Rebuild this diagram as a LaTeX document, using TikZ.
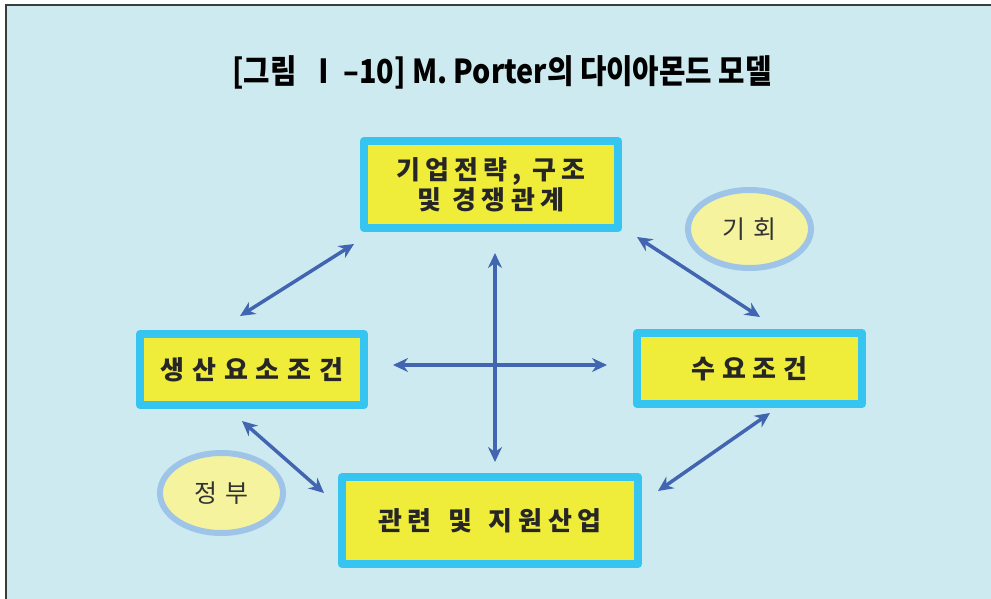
\documentclass[tikz,border=0pt]{standalone}
\usepackage{fontspec}
\usepackage{graphicx}
\setmainfont{Noto Sans CJK KR}
\newfontfamily\boxfont{Noto Sans CJK KR}
\usetikzlibrary{arrows.meta,shapes.geometric}
\definecolor{bgcyan}{RGB}{206,234,241}
\definecolor{boxblue}{RGB}{53,197,240}
\definecolor{boxyellow}{RGB}{239,236,58}
\definecolor{ringblue}{RGB}{158,196,232}
\definecolor{paleyellow}{RGB}{245,243,158}
\definecolor{arrowblue}{RGB}{66,101,178}
\definecolor{framegray}{RGB}{60,60,60}
\tikzset{
  stagebox/.style={draw=boxblue, fill=boxyellow, line width=8pt, line join=round,
    inner sep=0pt, align=center, text=black!85},
  chance/.style={ellipse, draw=ringblue, fill=paleyellow, line width=6pt, inner sep=0pt,
    text=black!80, font={\fontsize{25}{28}\selectfont\addfontfeature{LetterSpace=10}}},
  link/.style={draw=arrowblue, line width=3.5pt,
    {Stealth[length=15pt,width=14pt]}-{Stealth[length=15pt,width=14pt]}}
}
\begin{document}
\begin{tikzpicture}[x=1pt,y=-1pt]
  \useasboundingbox (0,0) rectangle (991,599);
  \fill[white] (0,0) rectangle (991,599);
  \fill[bgcyan] (6,5) rectangle (991,599);
  \draw[framegray, line width=1.5pt] (6,599) -- (6,5) -- (991,5);
  % title
  \node (title) at (502,72) {\scalebox{0.87}[1]{\fontsize{33}{36}\selectfont\bfseries
    [그림\ \ Ⅰ\,–10]\ M. Porter의 다이아몬드 모델}};
  % four determinants
  \node[stagebox, minimum width=254, minimum height=87,
    font={\boxfont\fontsize{26}{30.5}\selectfont\bfseries\addfontfeature{LetterSpace=20}}]
    (strategy) at (491,184.5) {\rule{0pt}{22pt}기업전략, 구조\\및 경쟁관계};
  \node[stagebox, minimum width=224, minimum height=71,
    font={\boxfont\fontsize{26}{28}\selectfont\bfseries\addfontfeature{LetterSpace=30}}]
    (factor) at (252,369.5) {생산요소조건};
  \node[stagebox, minimum width=225, minimum height=71,
    font={\boxfont\fontsize{26}{28}\selectfont\bfseries\addfontfeature{LetterSpace=26}}]
    (demand) at (749.5,368.5) {수요조건};
  \node[stagebox, minimum width=296, minimum height=87,
    font={\boxfont\fontsize{26}{28}\selectfont\bfseries\addfontfeature{LetterSpace=22}}]
    (related) at (490,520.5) {관련\hspace{5pt} 및\hspace{5pt} 지원산업};
  % chance and government
  \node[chance, minimum width=123, minimum height=78] (chance) at (749.5,229) {기 회};
  \node[chance, minimum width=123, minimum height=80] (gov) at (221.5,493) {정 부};
  % arrow ends
  \coordinate (cross-n) at (495,253);
  \coordinate (cross-s) at (495,462);
  \coordinate (cross-w) at (393,365);
  \coordinate (cross-e) at (607,365);
  \coordinate (tl-a) at (240,316);
  \coordinate (tl-b) at (354,244);
  \coordinate (tr-a) at (637,237);
  \coordinate (tr-b) at (760,317);
  \coordinate (bl-a) at (242,421);
  \coordinate (bl-b) at (324,493);
  \coordinate (br-a) at (658,491);
  \coordinate (br-b) at (770,413);
  \draw[link] (cross-n) -- (cross-s);
  \draw[link] (cross-w) -- (cross-e);
  \draw[link] (tl-a) -- (tl-b);
  \draw[link] (tr-a) -- (tr-b);
  \draw[link] (bl-a) -- (bl-b);
  \draw[link] (br-a) -- (br-b);
\end{tikzpicture}
\end{document}
